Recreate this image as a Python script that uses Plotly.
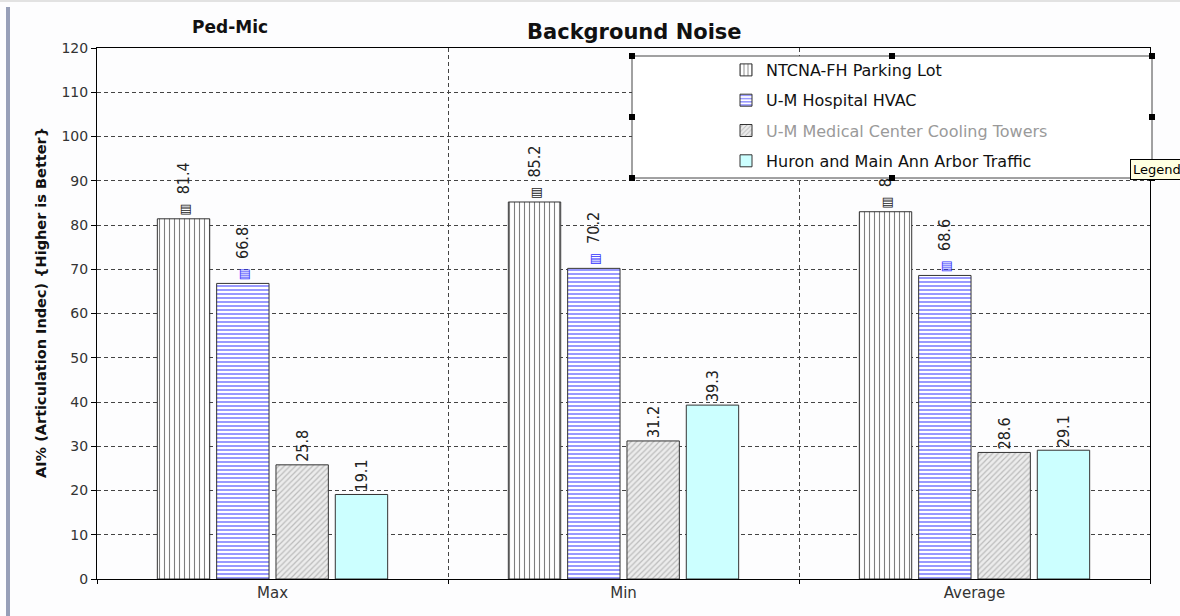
import plotly.graph_objects as go

# Categories and series values (AI%, articulation index)
categories = ["Max", "Min", "Average"]
series_names = [
    "NTCNA-FH Parking Lot",
    "U-M Hospital HVAC",
    "U-M Medical Center Cooling Towers",
    "Huron and Main Ann Arbor Traffic",
]
ntcna_parking = [81.4, 85.2, 83.0]
hospital_hvac = [66.8, 70.2, 68.6]
cooling_towers = [25.8, 31.2, 28.6]
huron_traffic = [19.1, 39.3, 29.1]
y_ticks = list(range(0, 121, 10))

W, H = 1180, 616
ML, MR, MT, MB = 97, 30, 48, 37
PW, PH = W - ML - MR, H - MT - MB


def px_x(x):
    return (x - ML) / PW


def px_y(y):
    return (H - MB - y) / PH


label_font = dict(family="Liberation Sans Narrow, Arial Narrow, DejaVu Sans Condensed, Liberation Sans",
                  size=16, color="#222222")
line_style = dict(color="#333333", width=1)

key = "<span style='font-family:DejaVu Sans;font-size:13px{c}'>▥</span>  %{{y}}"

styles = [
    dict(values=ntcna_parking,
         pattern=dict(shape="|", fgcolor="#000000", bgcolor="#ffffff", size=5, solidity=0.22),
         color="#ffffff",
         template=key.format(c=""),
         name=series_names[0]),
    dict(values=hospital_hvac,
         pattern=dict(shape="-", fgcolor="#0000ff", bgcolor="#ffffff", size=4, solidity=0.4),
         color="#ffffff",
         template=key.format(c=";color:#3333ff"),
         name=series_names[1]),
    dict(values=cooling_towers,
         pattern=dict(shape="/", fgcolor="#8a8a8a", bgcolor="#ececec", size=4, solidity=0.3),
         color="#ececec",
         template="%{y}",
         name="<span style='color:#9a9a9a'>" + series_names[2] + "</span>"),
    dict(values=huron_traffic,
         pattern=None,
         color="#ccffff",
         template="%{y}",
         name=series_names[3]),
]

fig = go.Figure()
for i, s in enumerate(styles):
    marker = dict(color=s["color"], line=line_style)
    if s["pattern"]:
        marker["pattern"] = s["pattern"]
    fig.add_trace(go.Bar(
        x=categories, y=s["values"], name=s["name"], marker=marker,
        texttemplate=s["template"], textposition="outside", textangle=-90,
        outsidetextfont=label_font, constraintext="none", cliponaxis=False,
        legendgroup=f"g{i}",
    ))

grid = dict(gridcolor="#444444", gridwidth=1, griddash="4px,3px")

fig.update_layout(
    width=W, height=H, autosize=False,
    margin=dict(l=ML, r=MR, t=MT, b=MB),
    paper_bgcolor="#fdfdfe", plot_bgcolor="#fdfdfe",
    barmode="group", bargap=0.324, bargroupgap=0.117,
    font=dict(family="DejaVu Sans", size=13, color="#222222"),
    showlegend=True,
    legend=dict(x=px_x(726), y=px_y(53), xanchor="left", yanchor="top",
                bgcolor="rgba(0,0,0,0)", borderwidth=0, tracegroupgap=6.5,
                font=dict(family="DejaVu Sans", size=16, color="#111111"),
                traceorder="grouped"),
    xaxis=dict(type="category", tickson="boundaries", ticks="outside", ticklen=4,
               tickcolor="#000000", showline=True, linecolor="#000000", linewidth=1,
               mirror=True, showgrid=True, **grid,
               tickfont=dict(family="DejaVu Sans", size=15, color="#333333")),
    yaxis=dict(range=[0, 120], tickvals=y_ticks, ticks="outside", ticklen=5,
               tickcolor="#000000", showline=True, linecolor="#000000", linewidth=1,
               mirror=True, showgrid=True, zeroline=False, **grid,
               tickfont=dict(family="DejaVu Sans", size=14, color="#333333")),
)

# Legend frame (covers the bar labels behind it) with its selection handles
lx0, lx1, ly0, ly1 = px_x(632), px_x(1152), px_y(178), px_y(56)
shapes = [
    dict(type="rect", xref="paper", yref="paper", x0=lx0, x1=lx1, y0=ly0, y1=ly1,
         fillcolor="#ffffff", line=dict(color="#444444", width=1), layer="above"),
    # window chrome: top rule and left accent bar
    dict(type="rect", xref="paper", yref="paper", x0=px_x(0), x1=px_x(W), y0=px_y(2), y1=px_y(0),
         fillcolor="#e2e2e2", line=dict(width=0), layer="above"),
    dict(type="rect", xref="paper", yref="paper", x0=px_x(6), x1=px_x(10), y0=px_y(H), y1=px_y(7),
         fillcolor="#979fb8", line=dict(width=0), layer="above"),
]
hx = [632, 892, 1152]
hy = [56, 117, 178]
for cx in hx:
    for cy in hy:
        if cx == 892 and cy == 117:
            continue
        shapes.append(dict(type="rect", xref="paper", yref="paper",
                           x0=px_x(cx - 3), x1=px_x(cx + 3), y0=px_y(cy + 3), y1=px_y(cy - 3),
                           fillcolor="#000000", line=dict(width=0), layer="above"))
fig.update_layout(shapes=shapes)

annotations = [
    dict(text="<b>Ped-Mic</b>", x=px_x(230), y=px_y(27), xref="paper", yref="paper",
         xanchor="center", yanchor="middle", showarrow=False,
         font=dict(family="DejaVu Sans", size=17, color="#111111")),
    dict(text="<b>Background Noise</b>", x=px_x(634), y=px_y(32), xref="paper", yref="paper",
         xanchor="center", yanchor="middle", showarrow=False,
         font=dict(family="DejaVu Sans", size=21, color="#111111")),
    dict(text="<b>AI% (Articulation Indec) {Higher is Better}</b>", x=px_x(41), y=px_y(303),
         xref="paper", yref="paper", xanchor="center", yanchor="middle",
         showarrow=False, textangle=-90,
         font=dict(family="DejaVu Sans", size=14.5, color="#111111")),
    dict(text="Legend", x=px_x(1130), y=px_y(169), xref="paper", yref="paper",
         xanchor="left", yanchor="middle", showarrow=False, bgcolor="#ffffe1",
         bordercolor="#000000", borderwidth=1, borderpad=2,
         font=dict(family="DejaVu Sans", size=13, color="#000000")),
]
fig.update_layout(annotations=annotations)

fig.write_html("out.html")
